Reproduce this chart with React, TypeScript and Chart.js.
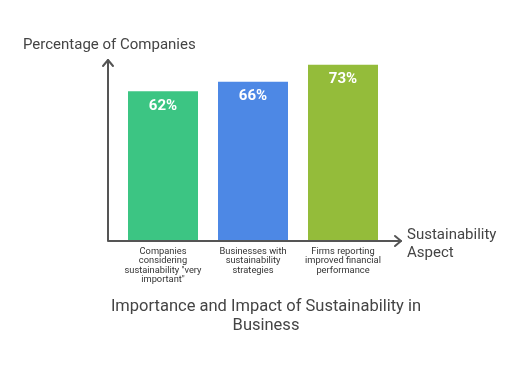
import React, { useEffect, useRef } from "react";
import { Chart, registerables } from "chart.js";
Chart.register(...registerables);

const categories: string[][] = [
  ["Companies", "considering", "sustainability \"very", "important\""],
  ["Businesses with", "sustainability", "strategies"],
  ["Firms reporting", "improved financial", "performance"],
];
const values: number[] = [62, 66, 73];
const valueLabels: string[] = ["62%", "66%", "73%"];
const barColors: string[] = ["#3CC583", "#4D88E5", "#94BC3A"];
const yAxisTitle = "Percentage of Companies";
const xAxisTitle: string[] = ["Sustainability", "Aspect"];
const chartTitle: string[] = ["Importance and Impact of Sustainability in", "Business"];

const FONT = "Roboto, 'Open Sans', sans-serif";

const decor = {
  id: "decor",
  afterDatasetsDraw(chart: any) {
    const { ctx, chartArea } = chart;
    const { left, right, top, bottom } = chartArea;
    const ax = left - 10;
    const axisColor = "#555555";
    ctx.save();
    // axes
    ctx.strokeStyle = axisColor;
    ctx.lineWidth = 2;
    ctx.lineCap = "round";
    ctx.lineJoin = "round";
    ctx.beginPath();
    ctx.moveTo(ax, top);
    ctx.lineTo(ax, bottom);
    ctx.lineTo(right + 13, bottom);
    ctx.stroke();
    // arrows
    ctx.beginPath();
    ctx.moveTo(ax - 5, top + 6);
    ctx.lineTo(ax, top);
    ctx.lineTo(ax + 5, top + 6);
    ctx.moveTo(right + 7, bottom - 5);
    ctx.lineTo(right + 13, bottom);
    ctx.lineTo(right + 7, bottom + 5);
    ctx.stroke();

    // value labels
    const meta = chart.getDatasetMeta(0);
    ctx.fillStyle = "#ffffff";
    ctx.font = `bold 15px ${FONT}`;
    ctx.textAlign = "center";
    ctx.textBaseline = "middle";
    meta.data.forEach((bar: any, i: number) => {
      ctx.fillText(valueLabels[i], bar.x, bar.y + 14.5);
    });

    // category labels
    ctx.fillStyle = "#333333";
    ctx.font = `9.3px ${FONT}`;
    meta.data.forEach((bar: any, i: number) => {
      categories[i].forEach((line, j) => {
        ctx.fillText(line, bar.x, bottom + 10.5 + j * 9.4);
      });
    });

    // y axis title
    ctx.fillStyle = "#444444";
    ctx.font = `15px ${FONT}`;
    ctx.textAlign = "left";
    ctx.fillText(yAxisTitle, 23, 45.5);

    // x axis title
    ctx.font = `15px ${FONT}`;
    xAxisTitle.forEach((line, j) => {
      ctx.fillText(line, right + 19, bottom - 6 + j * 18);
    });

    // chart title
    ctx.font = `16.5px ${FONT}`;
    ctx.textAlign = "center";
    chartTitle.forEach((line, j) => {
      ctx.fillText(line, 266, 306.5 + j * 19);
    });
    ctx.restore();
  },
};

export default function App() {
  const ref = useRef<HTMLCanvasElement | null>(null);
  useEffect(() => {
    if (!ref.current) return;
    const chart = new Chart(ref.current, {
      type: "bar",
      data: {
        labels: categories.map((c) => c.join(" ")),
        datasets: [
          {
            data: values,
            backgroundColor: barColors,
            borderWidth: 0,
            barPercentage: 70 / 90,
            categoryPercentage: 1,
          },
        ],
      },
      options: {
        responsive: false,
        animation: false,
        layout: { padding: { left: 118, right: 136, top: 60, bottom: 130 } },
        scales: {
          x: { display: false },
          y: { display: false, min: 0, max: 75 },
        },
        plugins: { legend: { display: false }, tooltip: { enabled: false }, title: { display: false } },
      },
      plugins: [decor],
    });
    return () => chart.destroy();
  }, []);
  return (
    <div style={{ position: "fixed", left: 0, top: 0, width: 524, height: 371, background: "#fff" }}>
      <canvas ref={ref} width={524} height={371} style={{ width: 524, height: 371 }} />
    </div>
  );
}
